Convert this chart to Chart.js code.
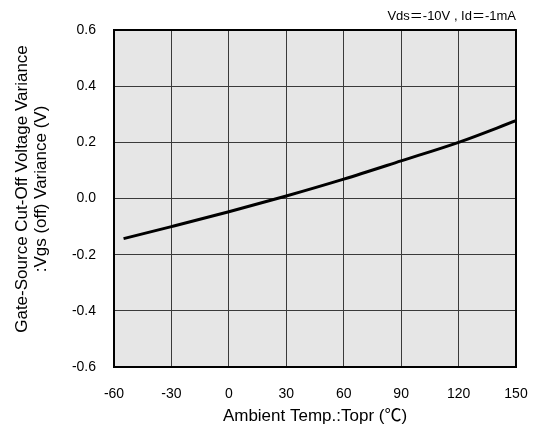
<!DOCTYPE html>
<html>
<head>
<meta charset="utf-8">
<script src="https://cdn.jsdelivr.net/npm/chart.js@4/dist/chart.umd.min.js"></script>
<style>
  html, body { margin: 0; padding: 0; background: #fff; }
  canvas { display: block; }
</style>
</head>
<body>
<canvas id="mainChart" width="540" height="432"></canvas>
<script>
// values
const tempC = [-55, -30, 0, 30, 60, 90, 120, 150];
const vgsVariance = [-0.143, -0.100, -0.047, 0.009, 0.069, 0.134, 0.200, 0.277];
const xTicks = [-60, -30, 0, 30, 60, 90, 120, 150];
const yTicks = [-0.6, -0.4, -0.2, 0.0, 0.2, 0.4, 0.6];
const yTitleLines = ["Gate-Source Cut-Off Voltage Variance", ":Vgs (off) Variance (V)"];
const conditionText = "Vds\uFF1D-10V , Id\uFF1D-1mA";

const FONT = "'Liberation Sans', Arial, Helvetica, 'Noto Sans CJK JP', sans-serif";

// grey plot background, black frame, y title and condition note
const framePlugin = {
  id: "frame",
  beforeDraw(chart) {
    const { ctx, chartArea: a } = chart;
    ctx.save();
    ctx.fillStyle = "#e6e6e6";
    ctx.fillRect(a.left, a.top, a.right - a.left, a.bottom - a.top);
    ctx.restore();
  },
  afterDraw(chart) {
    const { ctx, chartArea: a } = chart;
    ctx.save();
    ctx.strokeStyle = "#000";
    ctx.lineWidth = 2;
    ctx.strokeRect(a.left, a.top, a.right - a.left, a.bottom - a.top);

    ctx.fillStyle = "#000";
    ctx.font = "13px " + FONT;
    ctx.textAlign = "right";
    ctx.textBaseline = "middle";
    ctx.fillText(conditionText, a.right, 16);

    // rotated two-line y axis title
    ctx.translate(31, 189);
    ctx.rotate(-Math.PI / 2);
    ctx.textAlign = "center";
    ctx.font = "17px " + FONT;
    ctx.fillText(yTitleLines[0], 0, -9);
    ctx.fillText(yTitleLines[1], 0, 10);
    ctx.restore();
  }
};

const ctx = document.getElementById("mainChart").getContext("2d");
new Chart(ctx, {
  type: "line",
  data: {
    datasets: [
      {
        data: tempC.map((t, i) => ({ x: t, y: vgsVariance[i] })),
        borderColor: "#000",
        borderWidth: 3,
        pointRadius: 0,
        tension: 0.4,
        cubicInterpolationMode: "monotone",
        fill: false
      }
    ]
  },
  options: {
    responsive: false,
    animation: false,
    layout: { padding: { top: 30, right: 24, left: 0, bottom: 0 } },
    plugins: {
      legend: { display: false },
      tooltip: { enabled: false }
    },
    scales: {
      x: {
        type: "linear",
        min: -60,
        max: 150,
        afterBuildTicks: (axis) => { axis.ticks = xTicks.map((v) => ({ value: v })); },
        afterFit: (axis) => {
          axis.height = 65;
          axis.paddingLeft = 0;
          axis.paddingRight = 0;
        },
        grid: { color: "#3a3a3a", lineWidth: 1, drawTicks: false },
        border: { display: false },
        ticks: {
          color: "#000",
          font: { family: FONT, size: 14 },
          padding: 19,
          maxRotation: 0
        },
        title: {
          display: true,
          text: "Ambient Temp.:Topr (\u2103)",
          color: "#000",
          font: { family: FONT, size: 17 },
          padding: { top: 0, bottom: 5 }
        }
      },
      y: {
        min: -0.6,
        max: 0.6,
        afterBuildTicks: (axis) => { axis.ticks = yTicks.map((v) => ({ value: v })); },
        afterFit: (axis) => {
          axis.width = 114;
          axis.paddingTop = 0;
          axis.paddingBottom = 0;
        },
        grid: { color: "#3a3a3a", lineWidth: 1, drawTicks: false },
        border: { display: false },
        ticks: {
          color: "#000",
          font: { family: FONT, size: 14 },
          padding: 18,
          callback: (v) => Number(v).toFixed(1)
        }
      }
    }
  },
  plugins: [framePlugin]
});
</script>
</body>
</html>
